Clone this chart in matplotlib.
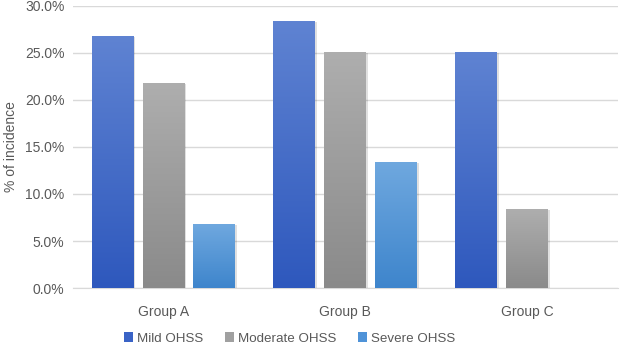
import numpy as np
import matplotlib
matplotlib.use("Agg")
import matplotlib.pyplot as plt
from matplotlib.colors import LinearSegmentedColormap
from matplotlib.patches import Patch

plt.rcParams['font.family'] = ['Liberation Sans', 'DejaVu Sans']

# data
groups = ['Group A', 'Group B', 'Group C']
series = ['Mild OHSS', 'Moderate OHSS', 'Severe OHSS']
mild = [26.7, 28.3, 25.0]
moderate = [21.7, 25.0, 8.3]
severe = [6.7, 13.3, 0.0]
yticks = [0, 5, 10, 15, 20, 25, 30]

# gradient colors (top, bottom) for each series
grads = [('#5f83d2', '#2e58bd'), ('#aeaeae', '#8a8a8a'), ('#6fa8df', '#3e85cc')]
legend_colors = ['#3a63c6', '#a0a0a0', '#4f93d8']

fig = plt.figure(figsize=(6.26, 3.48), dpi=100)
ax = fig.add_axes([0.116, 0.172, 0.871, 0.812])

x = np.arange(len(groups))
width = 0.23
offsets = [-0.28, 0.0, 0.28]
grad = np.linspace(0, 1, 256).reshape(-1, 1)

for vals, off, (top, bot) in zip([mild, moderate, severe], offsets, grads):
    cmap = LinearSegmentedColormap.from_list('g', [bot, top])
    bars = ax.bar(x + off, vals, width, color='none', edgecolor='none', zorder=3)
    for b in bars:
        h = b.get_height()
        if h <= 0:
            continue
        x0 = b.get_x()
        # soft shadow
        ax.bar(x0 + width / 2 + 0.006, h, width + 0.006, color='#000000', alpha=0.12,
               zorder=2.5, linewidth=0)
        ax.imshow(grad, extent=[x0, x0 + width, 0, h], origin='lower', cmap=cmap,
                  aspect='auto', zorder=3)

ax.set_xlim(-0.5, 2.5)
ax.set_ylim(0, 30)
ax.set_yticks(yticks)
ax.set_yticklabels(['%.1f%%' % v for v in yticks])
ax.set_xticks(x)
ax.set_xticklabels(groups)
ax.tick_params(axis='both', length=0, labelsize=10, colors='#595959')
ax.tick_params(axis='x', pad=12)
ax.tick_params(axis='y', pad=6)
ax.grid(axis='y', color='#d9d9d9', linewidth=1, zorder=0)
for s in ['top', 'right', 'left']:
    ax.spines[s].set_visible(False)
ax.spines['bottom'].set_color('#d9d9d9')
ax.set_ylabel('% of incidence', fontsize=10, color='#595959', labelpad=5)

handles = [Patch(facecolor=c, edgecolor='none') for c in legend_colors]
fig.legend(handles, series, loc='lower center', ncol=3, frameon=False,
           fontsize=9.6, labelcolor='#595959', bbox_to_anchor=(0.463, -0.025),
           handlelength=0.7, handleheight=0.7, handletextpad=0.3, columnspacing=1.6)

fig.savefig('out.png', dpi=100)
